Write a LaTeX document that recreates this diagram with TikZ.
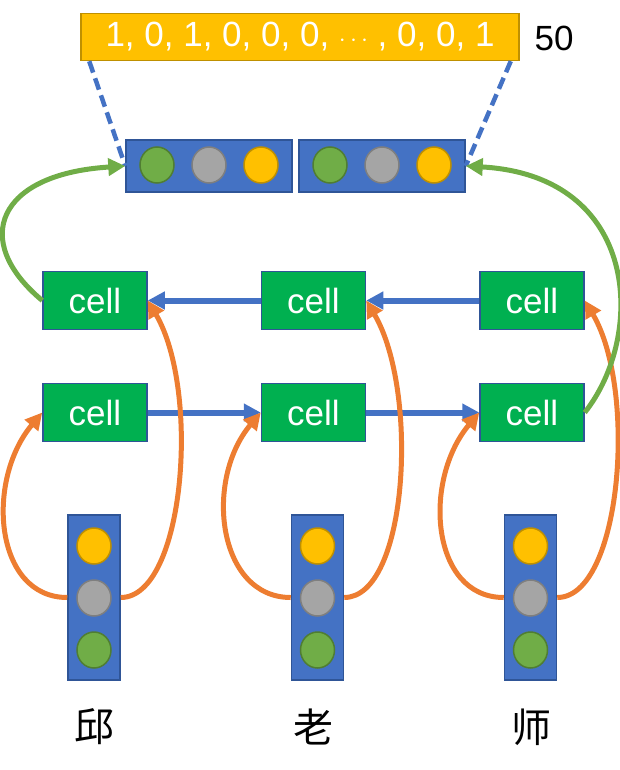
\documentclass[tikz,border=0pt]{standalone}
\usepackage{fontspec}
\setmainfont{Liberation Sans}
\newfontfamily\cjk{Noto Sans CJK SC}
\usepackage{tikz}
\usetikzlibrary{arrows.meta,shapes.geometric}

\definecolor{pblue}{HTML}{4472C4}
\definecolor{pbluedark}{HTML}{2F5597}
\definecolor{pgreen}{HTML}{00B050}
\definecolor{pleaf}{HTML}{70AD47}
\definecolor{pleafdark}{HTML}{507E32}
\definecolor{pgold}{HTML}{FFC000}
\definecolor{pgolddark}{HTML}{BF9000}
\definecolor{pgray}{HTML}{A5A5A5}
\definecolor{pgraydark}{HTML}{7F7F7F}
\definecolor{porange}{HTML}{ED7D31}

\begin{document}
\begin{tikzpicture}[x=1pt,y=-1pt,
	cellbox/.style={draw=pbluedark,line width=1.5pt,fill=pgreen,minimum width=104pt,minimum height=58pt,inner sep=0pt,text=white,font=\fontsize{35}{40}\selectfont},
	vecbox/.style={draw=pbluedark,line width=1.5pt,fill=pblue,inner sep=0pt},
	dot/.style={ellipse,minimum width=34pt,minimum height=36pt,inner sep=0pt,line width=1.5pt},
	leafdot/.style={dot,fill=pleaf,draw=pleafdark},
	graydot/.style={dot,fill=pgray,draw=pgraydark},
	golddot/.style={dot,fill=pgold,draw=pgolddark},
	tip/.style={-{Triangle[length=17pt,width=17pt]}},
	pass/.style={tip,line width=6pt,pblue},
	feed/.style={tip,line width=5pt,porange},
	merge/.style={tip,line width=5pt,pleaf},
	zoomline/.style={line width=4.5pt,pblue,dash pattern=on 12pt off 6pt}
	]
	\useasboundingbox (0,0) rectangle (620,770);

	\node [draw=pgolddark,line width=1.5pt,fill=pgold,minimum width=438pt,minimum height=47pt,inner sep=0pt,text=white,font=\fontsize{35}{40}\selectfont]
	(onehot) at (300,37) {1, 0, 1, 0, 0, 0, $\cdots$ , 0, 0, 1};
	\node [font=\fontsize{35}{40}\selectfont] (dim) at (554,38) {50};

	\node [vecbox,minimum width=166pt,minimum height=52pt] (embl) at (209,166) {};
	\node [vecbox,minimum width=166pt,minimum height=52pt] (embr) at (382,166) {};
	\node [leafdot] (embl1) at (157,165) {};
	\node [graydot] (embl2) at (209,165) {};
	\node [golddot] (embl3) at (261,165) {};
	\node [leafdot] (embr1) at (330,165) {};
	\node [graydot] (embr2) at (382,165) {};
	\node [golddot] (embr3) at (434,165) {};

	\foreach \i/\cx/\vx/\wx/\w in {1/95/94/94/邱,2/313.5/317.5/313/老,3/532/530.5/531/师}
	{
		\node [cellbox] (t\i) at (\cx,300.5) {cell};
		\node [cellbox] (b\i) at (\cx,412.5) {cell};
		\node [vecbox,minimum width=52pt,minimum height=165pt] (v\i) at (\vx,597.5) {};
		\node [golddot] (v\i a) at (\vx,546) {};
		\node [graydot] (v\i b) at (\vx,598) {};
		\node [leafdot] (v\i c) at (\vx,650) {};
		\node [font=\cjk\fontsize{40}{44}\selectfont] (w\i) at (\wx,727) {\w};
	}

	\draw [zoomline] ([xshift=9pt]onehot.south west) -- (embl.west);
	\draw [zoomline] ([xshift=-9pt]onehot.south east) -- (embr.east);

	\draw [pass] (t3.west) -- (t2.east);
	\draw [pass] (t2.west) -- (t1.east);
	\draw [pass] (b1.east) -- (b2.west);
	\draw [pass] (b2.east) -- (b3.west);

	\foreach \i in {1,2,3}
	{
		\draw [feed] (v\i.west) .. controls +(-73,0) and +(-57,68) .. (b\i.west);
		\draw [feed] (v\i.east) .. controls +(64,0) and +(53,90) .. (t\i.east);
	}

	\draw [merge] (t1.west) .. controls +(-72,-60) and +(-128,8) .. (embl.west);
	\draw [merge] (b3.east) .. controls +(61,-77) and +(175,10) .. (embr.east);

\end{tikzpicture}
\end{document}
